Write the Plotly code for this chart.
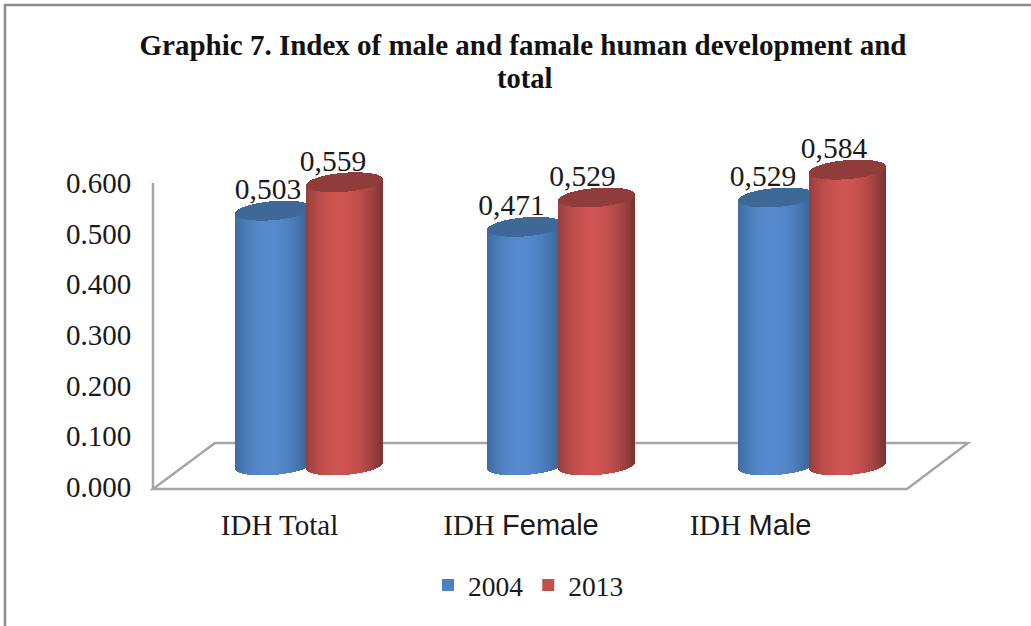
import math
import plotly.graph_objects as go

# ---- data ----
categories = ["IDH Total", "IDH Female", "IDH Male"]
years = ["2004", "2013"]
values_2004 = [0.503, 0.471, 0.529]
values_2013 = [0.559, 0.529, 0.584]
y_ticks = [0.0, 0.1, 0.2, 0.3, 0.4, 0.5, 0.6]
tick_labels = [
    "IDH Total",
    'IDH <span style="font-family:Liberation Sans">Female</span>',
    'IDH <span style="font-family:Liberation Sans">Male</span>',
]
title_lines = ["Graphic 7. Index of male and famale human development and", "total"]

# ---- layout constants (pixels in a 1031x626 page) ----
W, H = 1031, 626
L, R, T, B = 153, 968, 120, 494
PX_PER_UNIT = 506.67
ZERO_PX = 487          # y pixel of the axis zero
BASE_PX = 465.5        # y pixel of the cylinders' base centre
GROUP0_PX = 309.5
GROUP_STEP = 251.5
OFFSET_PX = 35.5
RX, RY, TILT = 38, 9.5, 3
STRIP_PX = 1

x_per_px = 1 / GROUP_STEP
xmin = (L - GROUP0_PX) * x_per_px
xmax = (R - GROUP0_PX) * x_per_px
yr = [(ZERO_PX - B) / PX_PER_UNIT, (ZERO_PX - T) / PX_PER_UNIT]
y2r = [(BASE_PX - B) / PX_PER_UNIT, (BASE_PX - T) / PX_PER_UNIT]
tick_shift_px = [-30, -40, -62]
label_dx_px = [[-6, -14, -14], [-12, -14, -14]]
LABEL_DY_PX = 19


def px(x):
    return (x - L) / (R - L)


def py(y):
    return (B - y) / (B - T)


def mix(a, b, s):
    return "rgb(%d,%d,%d)" % tuple(round(a[i] + (b[i] - a[i]) * s) for i in range(3))


styles = [
    dict(dark=(50, 92, 138), light=(86, 138, 206), top="#3e6898", swatch="#4f81bd"),
    dict(dark=(122, 52, 50), light=(206, 84, 81), top="#8f3c3a", swatch="#c0504d"),
]

fig = go.Figure()
n_groups = range(len(categories))

for idx, (name, vals) in enumerate(zip(years, [values_2004, values_2013])):
    st = styles[idx]
    sign = -1 if idx == 0 else 1
    bx, by, bb, bw, bc = [], [], [], [], []
    lx, ly, lt = [], [], []
    n = int(2 * RX / STRIP_PX)
    for g in n_groups:
        cx = g + sign * OFFSET_PX * x_per_px
        v = vals[g]
        cap = []
        for i in range(n):
            u = -1 + (i + 0.5) * 2 / n
            s = max(0.0, 1 - ((u + 0.1) / 1.1) ** 2)
            skew = TILT * u / PX_PER_UNIT
            half = (RY / PX_PER_UNIT) * math.sqrt(max(0.0, 1 - u * u))
            x = cx + u * RX * x_per_px
            # cylinder body: from the lower rim up to the centre line of the top
            bx.append(x)
            bb.append(skew - half)
            by.append(v + half)
            bw.append(STRIP_PX * 1.3 * x_per_px)
            bc.append(mix(st["dark"], st["light"], s))
            cap.append((x, v + skew - half, 2 * half))
        # top cap strips come after the body, inside the same bar trace
        for x, b0, h in cap:
            bx.append(x)
            bb.append(b0)
            by.append(h)
            bw.append(STRIP_PX * 1.3 * x_per_px)
            bc.append(st["top"])
        lx.append(cx + label_dx_px[idx][g] * x_per_px)
        ly.append(v + LABEL_DY_PX / PX_PER_UNIT)
        lt.append(f"{v:.3f}".replace(".", ","))
    fig.add_trace(go.Bar(
        x=bx, y=by, base=bb, width=bw, xaxis="x", yaxis="y2",
        marker=dict(color=bc, line=dict(width=0)),
        showlegend=False, hoverinfo="skip",
    ))
    fig.add_trace(go.Scatter(
        x=lx, y=ly, xaxis="x", yaxis="y2", mode="text", text=lt,
        textposition="middle center",
        textfont=dict(family="Liberation Serif", size=29.5, color="#1a1a1a"),
        showlegend=False, hoverinfo="skip", cliponaxis=False,
    ))

# legend entries
for idx, name in enumerate(years):
    fig.add_trace(go.Scatter(
        x=[None], y=[None], mode="markers", name=name, xaxis="x", yaxis="y",
        marker=dict(symbol="square", size=13, color=styles[idx]["swatch"]),
    ))

GRID = "#a6a6a6"
shapes = [
    # wall axis line
    dict(type="line", xref="paper", yref="paper", x0=px(153), x1=px(153),
         y0=py(183), y1=py(489), line=dict(color=GRID, width=2.5), layer="below"),
    # floor
    dict(type="path", xref="paper", yref="paper",
         path=f"M {px(153)} {py(489)} L {px(215)} {py(443)} L {px(968)} {py(443)} "
              f"L {px(907)} {py(489)} Z",
         line=dict(color=GRID, width=2.5), layer="below"),
    # picture frame, top and left only
    dict(type="line", xref="paper", yref="paper", x0=px(4), x1=px(1031),
         y0=py(5), y1=py(5), line=dict(color="#8c8c8c", width=2.5), layer="above"),
    dict(type="line", xref="paper", yref="paper", x0=px(5), x1=px(5),
         y0=py(4), y1=py(626), line=dict(color="#8c8c8c", width=2.5), layer="above"),
]

fig.update_layout(
    width=W, height=H,
    margin=dict(l=L, r=W - R, t=T, b=H - B, pad=0),
    paper_bgcolor="white", plot_bgcolor="white",
    barmode="overlay", bargap=0,
    font=dict(family="Liberation Serif", color="#1a1a1a"),
    title=dict(
        text=f"<b>{title_lines[0]}</b>",
        x=523 / W, xanchor="center", xref="container",
        y=1 - 45 / H, yanchor="middle",
        font=dict(family="Liberation Serif", size=29, color="#111111"),
    ),
    annotations=[dict(
        text=f"<b>{title_lines[1]}</b>", xref="paper", yref="paper",
        x=px(524), y=py(78), xanchor="center", yanchor="middle", showarrow=False,
        font=dict(family="Liberation Serif", size=28.5, color="#111111"),
    )],
    xaxis=dict(
        range=[xmin, xmax], showgrid=False, zeroline=False, showline=False,
        tickmode="array",
        tickvals=[i + tick_shift_px[i] * x_per_px for i in n_groups],
        ticktext=tick_labels, ticks="outside", ticklen=5, tickcolor="rgba(0,0,0,0)",
        tickfont=dict(family="Liberation Serif", size=29, color="#1a1a1a"),
    ),
    yaxis=dict(
        range=yr, showgrid=False, zeroline=False, showline=False,
        tickmode="array", tickvals=y_ticks,
        ticktext=[f"{t:.3f}" for t in y_ticks],
        ticks="outside", ticklen=15, tickcolor="rgba(0,0,0,0)",
        tickfont=dict(family="Liberation Serif", size=29, color="#1a1a1a"),
    ),
    yaxis2=dict(range=y2r, overlaying="y", visible=False),
    legend=dict(
        orientation="h", x=(438 - 10) / W, y=1 - 585 / H, xref="container", yref="container",
        xanchor="left", yanchor="middle",
        font=dict(family="Liberation Serif", size=27.5, color="#1a1a1a"),
        bgcolor="rgba(0,0,0,0)", itemsizing="constant",
    ),
    shapes=shapes,
)

fig.write_html("out.html", config={"displayModeBar": False},
               post_script="document.body.style.margin='0';")
